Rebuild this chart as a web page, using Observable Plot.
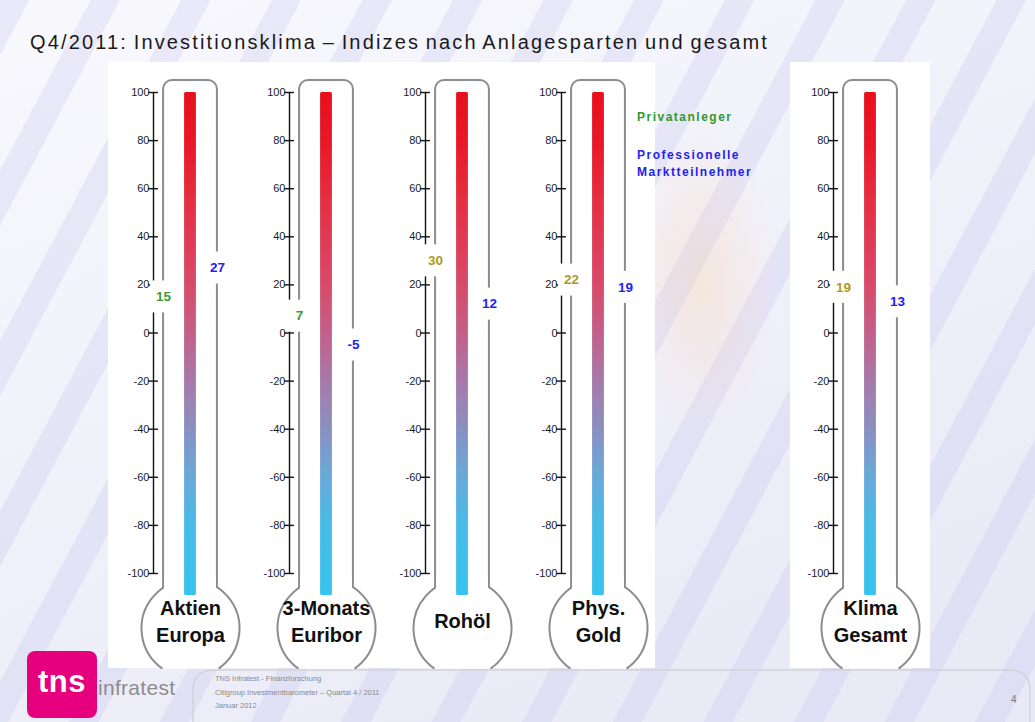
<!DOCTYPE html>
<html>
<head>
<meta charset="utf-8">
<script src="https://cdn.jsdelivr.net/npm/d3@7"></script>
<script src="https://cdn.jsdelivr.net/npm/@observablehq/plot@0.6"></script>
<style>
  body{margin:0;width:1035px;height:722px;overflow:hidden;position:relative;
    font-family:"Liberation Sans",Arial,sans-serif;
    background:
      radial-gradient(ellipse 110px 220px at 700px 280px, rgba(255,205,160,0.30), rgba(255,255,255,0) 70%),
      repeating-linear-gradient(118deg, rgba(190,190,238,0.25) 0 26px, rgba(245,245,252,0) 26px 80px),
      linear-gradient(160deg,#f8f8fd,#e8e8f6);}
  .panel{position:absolute;background:#fff;}
  #title{position:absolute;left:30px;top:32px;font-size:20px;line-height:20px;color:#1a1a1a;letter-spacing:2.15px;word-spacing:-2px;white-space:nowrap;}
  #chart{position:absolute;left:0;top:62px;}
  #legend{position:absolute;left:637px;top:109px;font-weight:bold;font-size:12px;line-height:17px;letter-spacing:1.5px;}
  #logo{position:absolute;left:27px;top:651px;width:70px;height:67px;background:#e6007e;border-radius:8px;}
  #logo span{position:absolute;left:11px;top:13px;color:#fff;font-weight:bold;font-size:31px;letter-spacing:0.5px;}
  #infratest{position:absolute;left:98px;top:676px;color:#8c8c8c;font-size:21px;letter-spacing:0.3px;}
  #foot{position:absolute;left:215px;top:672px;color:#8a8a8a;font-size:7.5px;line-height:13.5px;}
  #pnum{position:absolute;left:1011px;top:694px;color:#777;font-size:10px;}
</style>
</head>
<body>
<div class="panel" style="left:108px;top:62px;width:547px;height:606px"></div>
<div class="panel" style="left:790px;top:62px;width:140px;height:606px"></div>
<svg style="position:absolute;left:0;top:0" width="1035" height="722">
  <path d="M193,722 V690 Q193,670 215,670 H1008 Q1030,670 1030,690 V722" fill="none" stroke="#d2d2da" stroke-width="1.5"/>
</svg>
<div id="title">Q4/2011: Investitionsklima – Indizes nach Anlagesparten und gesamt</div>
<div id="chart"></div>
<div id="legend"><div style="color:#2e9a2e">Privatanleger</div><div style="height:21px"></div><div style="color:#2323f0">Professionelle</div><div style="color:#2323f0">Marktteilnehmer</div></div>
<div id="logo"><span>tns</span></div>
<div id="infratest">infratest</div>
<div id="foot">TNS Infratest - Finanzforschung<br>Citigroup Investmentbarometer – Quartal 4 / 2011<br>Januar 2012</div>
<div id="pnum">4</div>
<script>
// ---- data ----
const categories = ["Aktien Europa", "3-Monats Euribor", "Rohöl", "Phys. Gold", "Klima Gesamt"];
const privatanleger = [15, 7, 30, 22, 19];
const professionelle = [27, -5, 12, 19, 13];
const yTicks = [-100, -80, -60, -40, -20, 0, 20, 40, 60, 80, 100];
// ---- styles ----
const privColors = ["#3c9a34", "#3c9a34", "#ae9a22", "#ae9a22", "#ae9a22"];
const profColor = "#2222ee";

const yMin = d3.min(yTicks), yMax = d3.max(yTicks);
const slots = [...categories.slice(0, 4), " ", categories[4]];
const rows = categories.map((c, i) => ({cat: c, priv: privatanleger[i], prof: professionelle[i], pc: privColors[i]}));
const tickRows = categories.flatMap(c => yTicks.map(t => ({cat: c, t})));

const W = 1035, mL = 121, mR = 97;
const half = (W - mL - mR) / slots.length / 2;

// bulb shapes: circle cut off at the bottom (by the slide panel)
const cutBulb = (closed) => ({
  draw(ctx, size) {
    const r = Math.sqrt(size / Math.PI);
    const a0 = 125 * Math.PI / 180, a1 = 415 * Math.PI / 180;
    ctx.moveTo(r * Math.cos(a0), r * Math.sin(a0));
    ctx.arc(0, 0, r, a0, a1);
    if (closed) ctx.closePath();
  }
});

const plot = Plot.plot({
  width: W, height: 610,
  marginTop: 30, marginBottom: 99, marginLeft: mL, marginRight: mR,
  style: {background: "transparent", overflow: "visible", fontFamily: "'Liberation Sans', Arial, sans-serif"},
  x: {type: "band", domain: slots, padding: 0, axis: null},
  y: {domain: [yMin, yMax], axis: null},
  color: {type: "identity"},
  marks: [
    // glass tube
    Plot.barY(categories, {x: d => d, y1: () => yMin, y2: () => yMax, insetTop: -12, insetBottom: -29,
      insetLeft: half - 27, insetRight: half - 27, rx: 9, fill: "white", stroke: "#8c8c8c", strokeWidth: 2}),
    // bulb fill + open outline
    Plot.dot(categories, {x: d => d, y: () => yMin, dy: 55, r: 49, symbol: cutBulb(true), fill: "white", stroke: "none"}),
    Plot.dot(categories, {x: d => d, y: () => yMin, dy: 55, r: 49, symbol: cutBulb(false), fill: "none", stroke: "#8c8c8c", strokeWidth: 2}),
    // hide bulb arc inside tube
    Plot.barY(categories, {x: d => d, y1: () => yMin, y2: () => yMin, insetTop: 3, insetBottom: -27,
      insetLeft: half - 26, insetRight: half - 26, fill: "white"}),
    // liquid column
    Plot.barY(categories, {x: d => d, y1: () => yMin, y2: () => yMax, insetBottom: -22,
      insetLeft: half - 6, insetRight: half - 6, rx: 1.5, fill: "url(#thermo)"}),
    // axis line
    Plot.ruleX(categories, {x: d => d, y1: () => yMin, y2: () => yMax, dx: -37, stroke: "#111", strokeWidth: 1.4}),
    Plot.tickY(tickRows, {x: "cat", y: "t", insetLeft: half - 42, insetRight: half + 32, stroke: "#111", strokeWidth: 1.4}),
    Plot.text(tickRows, {x: "cat", y: "t", text: d => String(d.t), textAnchor: "end", dx: -41, fontSize: 11, fill: "#1a1a1a", ariaLabel: "ticklabels"}),
    // label boxes
    Plot.barY(rows, {x: "cat", y1: "priv", y2: "priv", insetTop: -16, insetBottom: -16,
      insetLeft: half - 40, insetRight: half + 13, fill: "white"}),
    Plot.barY(rows, {x: "cat", y1: "prof", y2: "prof", insetTop: -16, insetBottom: -16,
      insetLeft: half + 13, insetRight: half - 42, fill: "white"}),
    // value labels
    Plot.text(rows, {x: "cat", y: "priv", text: d => String(d.priv), dx: -27, fontSize: 13.5, fontWeight: "bold", fill: "pc", ariaLabel: "vals"}),
    Plot.text(rows, {x: "cat", y: "prof", text: d => String(d.prof), dx: 27, fontSize: 13.5, fontWeight: "bold", fill: profColor, ariaLabel: "vals"}),
    // category names
    Plot.text(categories, {x: d => d, y: () => yMin, dy: 46, text: d => d.split(" ").join("\n"),
      fontSize: 20, fontWeight: "bold", lineHeight: 1.35, lineAnchor: "middle", fill: "#111", ariaLabel: "kategorie"})
  ]
});

const svg = d3.select(plot);
svg.insert("defs", ":first-child").html(`
  <linearGradient id="thermo" x1="0" y1="0" x2="0" y2="1">
    <stop offset="0" stop-color="#e80f1c"/>
    <stop offset="0.10" stop-color="#e81828"/>
    <stop offset="0.19" stop-color="#e52a3c"/>
    <stop offset="0.29" stop-color="#e03a55"/>
    <stop offset="0.38" stop-color="#d84a68"/>
    <stop offset="0.48" stop-color="#c2608a"/>
    <stop offset="0.57" stop-color="#a878a8"/>
    <stop offset="0.67" stop-color="#8a90c2"/>
    <stop offset="0.76" stop-color="#6aa8d8"/>
    <stop offset="0.86" stop-color="#48bce8"/>
    <stop offset="1" stop-color="#36c4ee"/>
  </linearGradient>`);
svg.selectAll('g[aria-label="kategorie"] text').style("letter-spacing", "1.9px");
svg.selectAll('g[aria-label="ticklabels"] text').style("letter-spacing", "1.6px");
svg.selectAll('g[aria-label="vals"] text').style("letter-spacing", "1px");
document.getElementById("chart").appendChild(plot);
</script>
</body>
</html>
